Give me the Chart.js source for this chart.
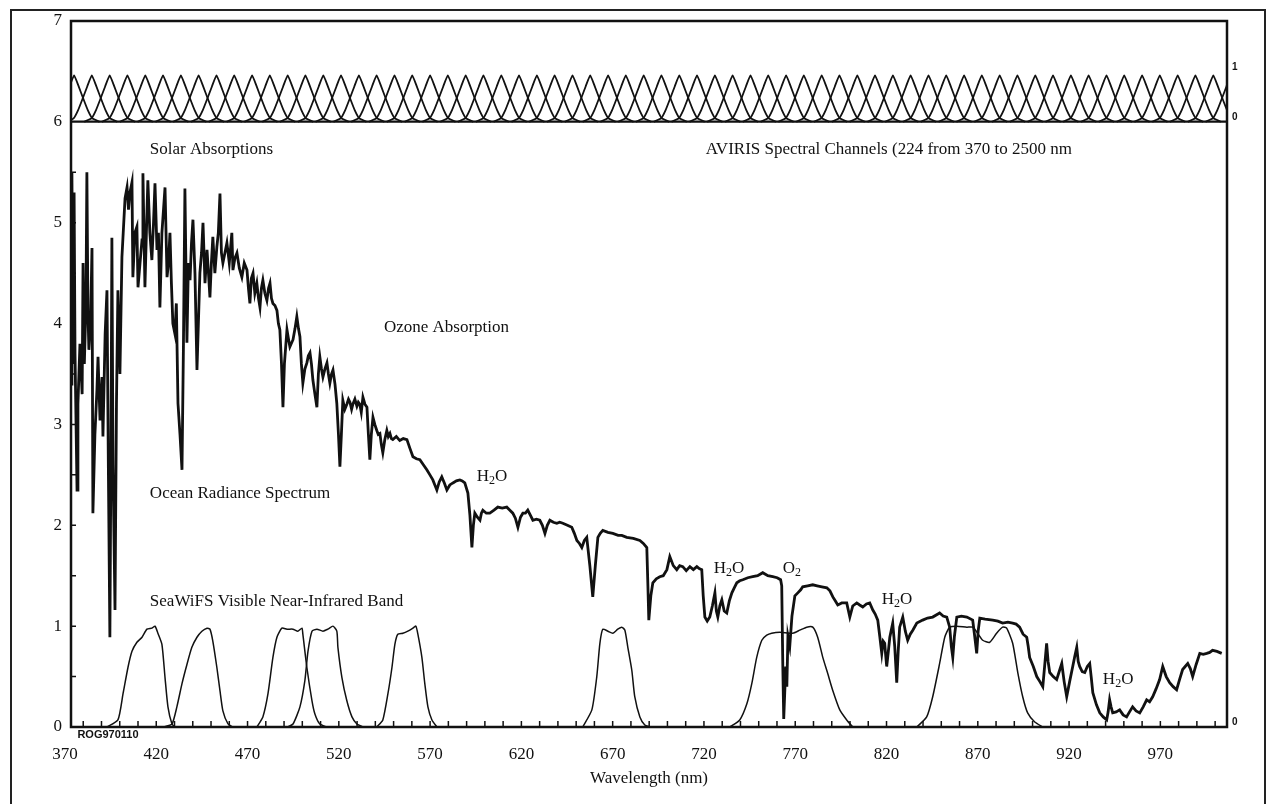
<!DOCTYPE html>
<html>
<head>
<meta charset="utf-8">
<script src="https://cdn.jsdelivr.net/npm/chart.js@4.4.1/dist/chart.umd.min.js"></script>
<style>
  html, body { margin: 0; padding: 0; background: #fff; }
  #wrap { position: relative; width: 1270px; height: 804px; }
  #frame { position: absolute; left: 10px; top: 9px; width: 1256px; height: 800px;
           border: 2px solid #222; box-sizing: border-box; pointer-events: none; }
</style>
</head>
<body>
<div id="wrap">
  <canvas id="chart" width="1270" height="804"></canvas>
  <div id="frame"></div>
</div>
<script>
// Ocean radiance spectrum over the AVIRIS channels and the SeaWiFS bands.
// Values.

const SPECTRUM_NM = [
  373.3, 373.8, 374.4, 375.0, 375.5, 376.6, 377.1, 378.2, 379.4, 379.9, 380.6, 381.5, 382.0, 382.6, 383.1,
  384.0, 384.8, 385.3, 386.4, 387.5, 388.1, 389.2, 390.3, 390.8, 392.0, 393.0, 393.8, 394.6, 395.2, 395.7,
  396.3, 397.4, 398.2, 399.0, 400.1, 401.2, 402.9, 404.0, 404.8, 405.6, 406.7, 407.2, 408.3, 409.4, 410.0,
  411.1, 412.2, 412.7, 413.8, 414.6, 415.4, 416.5, 417.6, 418.5, 419.3, 420.4, 421.2, 422.0, 423.1, 424.8,
  425.9, 426.7, 427.5, 428.3, 429.1, 430.2, 431.0, 431.9, 433.0, 434.1, 434.9, 435.7, 436.8, 437.6, 438.5,
  439.3, 440.1, 441.2, 442.3, 443.9, 444.8, 445.6, 446.7, 447.8, 448.6, 449.4, 450.2, 451.0, 452.1, 453.2,
  454.0, 454.9, 455.7, 456.5, 457.6, 458.7, 460.0, 461.4, 462.0, 463.1, 464.2, 465.5, 466.9, 468.2, 469.7,
  470.5, 471.3, 472.1, 473.0, 474.0, 475.1, 476.0, 476.8, 477.6, 478.4, 479.5, 480.6, 481.5, 482.3, 483.1,
  483.9, 485.0, 486.1, 486.9, 487.7, 488.6, 489.4, 490.2, 491.6, 492.4, 493.2, 494.9, 496.0, 497.0, 497.9,
  498.7, 499.5, 500.3, 501.4, 502.5, 503.3, 504.2, 505.0, 505.8, 506.9, 508.0, 508.8, 509.6, 510.5, 511.3,
  512.4, 513.5, 514.3, 515.1, 516.0, 516.8, 517.9, 518.9, 519.8, 520.6, 521.4, 522.2, 523.3, 524.4, 525.3,
  526.1, 527.0, 527.7, 528.8, 529.9, 530.7, 531.5, 532.3, 533.2, 534.3, 535.4, 536.2, 537.0, 537.8, 538.7,
  539.7, 540.8, 541.6, 542.5, 543.3, 544.1, 545.2, 546.3, 547.1, 548.0, 548.8, 549.6, 551.5, 553.4, 555.3,
  557.3, 559.0, 560.6, 562.5, 564.4, 566.3, 568.2, 569.9, 571.5, 572.6, 573.7, 575.0, 576.4, 577.8, 579.2,
  580.8, 582.5, 584.4, 586.3, 587.6, 589.0, 590.7, 591.8, 592.9, 593.7, 594.5, 595.9, 597.3, 598.1, 598.9,
  600.8, 602.7, 605.0, 607.1, 609.5, 612.0, 613.7, 615.3, 616.7, 618.1, 619.5, 620.8, 622.2, 623.5, 624.9,
  626.3, 628.2, 630.1, 631.5, 632.9, 634.2, 635.6, 637.5, 639.4, 641.0, 642.7, 645.2, 647.6, 649.0, 650.4,
  651.8, 653.1, 654.5, 655.8, 657.5, 659.1, 660.5, 661.9, 663.2, 664.6, 667.4, 670.1, 673.0, 675.0, 677.7,
  681.3, 684.9, 686.8, 688.7, 689.3, 689.8, 690.9, 692.0, 693.9, 695.8, 697.7, 699.7, 701.3, 703.2, 705.1,
  706.7, 708.4, 710.3, 712.3, 714.2, 716.1, 717.4, 718.8, 719.6, 720.5, 721.8, 723.2, 724.6, 726.0, 726.8,
  727.6, 728.7, 729.8, 731.1, 732.5, 733.9, 735.3, 736.6, 738.0, 739.6, 741.3, 744.0, 746.7, 749.4, 752.2,
  755.0, 757.7, 760.1, 762.0, 762.6, 763.2, 763.7, 764.8, 765.4, 766.0, 767.0, 768.2, 769.8, 771.4, 773.0,
  774.1, 776.8, 779.6, 782.0, 784.6, 787.3, 789.0, 790.6, 792.0, 793.3, 795.5, 798.2, 799.9, 801.5, 803.7,
  805.3, 807.0, 809.0, 810.8, 812.5, 813.8, 815.2, 816.3, 817.4, 818.2, 819.0, 819.6, 820.1, 821.0, 821.8,
  823.4, 824.5, 825.6, 826.4, 827.2, 828.9, 830.3, 831.6, 833.0, 834.4, 836.6, 839.8, 842.5, 845.3, 849.1,
  851.0, 853.0, 854.6, 855.5, 856.3, 857.2, 858.5, 861.0, 864.0, 867.2, 868.3, 869.4, 870.2, 871.1, 874.0,
  878.2, 881.0, 883.6, 886.5, 889.1, 891.0, 892.9, 894.8, 896.8, 897.6, 898.4, 900.4, 902.3, 904.0, 905.6,
  906.6, 907.7, 908.5, 909.4, 911.3, 913.2, 914.6, 916.0, 917.3, 918.7, 920.3, 922.0, 923.1, 924.2, 925.0,
  925.8, 927.2, 928.6, 930.0, 931.3, 932.1, 933.0, 935.0, 936.8, 938.7, 940.6, 941.4, 942.2, 943.0, 943.9,
  945.8, 947.7, 949.6, 951.5, 953.1, 954.8, 956.7, 958.7, 960.6, 962.5, 964.1, 965.8, 967.7, 969.6, 971.3,
  973.2, 975.1, 977.0, 978.9, 980.5, 982.2, 983.6, 985.0, 986.4, 987.7, 989.6, 991.6, 993.5, 995.4, 997.0,
  998.6, 1001.0, 1003.6
];

const SPECTRUM_RADIANCE = [
  3.40, 5.50, 3.60, 5.30, 3.70, 2.35, 3.20, 3.80, 3.30, 4.60, 3.60, 4.20, 5.50, 4.10, 3.74,
  4.00, 4.75, 2.12, 2.90, 3.34, 3.67, 3.04, 3.47, 2.88, 3.90, 4.33, 2.50, 0.89, 2.80, 4.85,
  2.60, 1.16, 3.20, 4.33, 3.50, 4.66, 5.24, 5.35, 5.13, 5.30, 5.40, 4.46, 4.90, 4.96, 4.36,
  4.60, 4.83, 5.49, 4.36, 4.90, 5.42, 4.90, 4.63, 5.00, 5.39, 4.73, 4.90, 4.16, 4.90, 5.35,
  4.46, 4.60, 4.90, 4.40, 4.00, 3.90, 4.20, 3.21, 2.90, 2.55, 3.80, 5.34, 3.81, 4.60, 4.43,
  4.80, 5.03, 4.50, 3.54, 4.50, 4.70, 5.00, 4.40, 4.73, 4.50, 4.26, 4.60, 4.86, 4.50, 4.76,
  4.90, 5.29, 4.70, 4.60, 4.70, 4.80, 4.60, 4.90, 4.53, 4.65, 4.70, 4.55, 4.46, 4.60, 4.53,
  4.35, 4.20, 4.45, 4.50, 4.30, 4.40, 4.25, 4.16, 4.35, 4.43, 4.30, 4.23, 4.35, 4.40, 4.25,
  4.20, 4.18, 4.13, 4.00, 3.94, 3.60, 3.17, 3.60, 3.94, 3.85, 3.77, 3.84, 3.95, 4.07, 3.95,
  3.87, 3.60, 3.41, 3.55, 3.61, 3.68, 3.71, 3.60, 3.44, 3.30, 3.17, 3.50, 3.67, 3.55, 3.47,
  3.55, 3.61, 3.50, 3.41, 3.50, 3.54, 3.40, 3.21, 2.90, 2.58, 2.90, 3.24, 3.15, 3.20, 3.25,
  3.22, 3.15, 3.20, 3.25, 3.18, 3.22, 3.20, 3.12, 3.27, 3.20, 3.17, 2.90, 2.65, 2.90, 3.07,
  3.00, 2.94, 2.90, 2.91, 2.80, 2.72, 2.85, 2.94, 2.88, 2.91, 2.86, 2.85, 2.88, 2.84, 2.86,
  2.85, 2.76, 2.68, 2.66, 2.65, 2.60, 2.55, 2.50, 2.45, 2.40, 2.35, 2.43, 2.48, 2.42, 2.35,
  2.40, 2.42, 2.44, 2.45, 2.44, 2.42, 2.32, 2.10, 1.78, 2.00, 2.12, 2.08, 2.05, 2.12, 2.15,
  2.12, 2.12, 2.15, 2.18, 2.17, 2.18, 2.15, 2.12, 2.07, 1.98, 2.08, 2.12, 2.12, 2.15, 2.10,
  2.05, 2.06, 2.05, 2.00, 1.92, 2.00, 2.05, 2.03, 2.02, 2.03, 2.02, 2.00, 1.98, 1.92, 1.85,
  1.82, 1.78, 1.85, 1.88, 1.60, 1.29, 1.60, 1.88, 1.92, 1.95, 1.93, 1.92, 1.90, 1.90, 1.88,
  1.87, 1.85, 1.82, 1.78, 1.40, 1.06, 1.30, 1.43, 1.47, 1.49, 1.50, 1.56, 1.69, 1.60, 1.56,
  1.60, 1.59, 1.55, 1.59, 1.56, 1.59, 1.57, 1.56, 1.30, 1.09, 1.05, 1.09, 1.20, 1.33, 1.15,
  1.09, 1.20, 1.26, 1.15, 1.13, 1.25, 1.33, 1.38, 1.43, 1.45, 1.46, 1.48, 1.49, 1.50, 1.53,
  1.50, 1.49, 1.48, 1.46, 1.40, 0.60, 0.08, 0.60, 0.40, 0.90, 0.80, 1.10, 1.30, 1.33, 1.36,
  1.39, 1.40, 1.41, 1.40, 1.39, 1.38, 1.35, 1.29, 1.25, 1.21, 1.23, 1.23, 1.09, 1.20, 1.23,
  1.21, 1.19, 1.22, 1.23, 1.16, 1.12, 1.06, 0.90, 0.73, 0.85, 0.83, 0.70, 0.60, 0.75, 0.89,
  1.03, 0.80, 0.44, 0.75, 0.99, 1.09, 0.95, 0.86, 0.92, 0.96, 1.03, 1.06, 1.08, 1.09, 1.13,
  1.10, 1.09, 0.99, 0.80, 0.69, 0.90, 1.09, 1.10, 1.09, 1.06, 0.90, 0.73, 0.95, 1.08, 1.07,
  1.06, 1.05, 1.03, 1.04, 1.03, 1.02, 0.99, 0.92, 0.89, 0.80, 0.69, 0.60, 0.50, 0.45, 0.40,
  0.60, 0.83, 0.65, 0.54, 0.50, 0.47, 0.55, 0.63, 0.45, 0.30, 0.45, 0.60, 0.70, 0.79, 0.65,
  0.60, 0.55, 0.54, 0.60, 0.63, 0.50, 0.34, 0.22, 0.14, 0.10, 0.07, 0.15, 0.27, 0.20, 0.14,
  0.15, 0.17, 0.12, 0.10, 0.15, 0.20, 0.16, 0.14, 0.20, 0.27, 0.25, 0.30, 0.38, 0.47, 0.60,
  0.50, 0.44, 0.40, 0.37, 0.47, 0.57, 0.60, 0.63, 0.58, 0.50, 0.62, 0.73, 0.72, 0.73, 0.74,
  0.76, 0.75, 0.73
];

// SeaWiFS relative spectral response, one sub-array per band
const BAND_LABELS = ["412", "443", "490", "510", "555", "670", "765", "865"];
const BAND_NM = [
  [393.0, 399.0, 401.8, 404.5, 406.7, 409.4, 412.2, 414.9, 417.6, 419.3, 420.9, 423.1, 424.8, 426.4, 428.6, 430.2],
  [423.7, 428.6, 431.3, 434.1, 436.8, 439.5, 442.3, 445.0, 447.8, 449.4, 451.0, 453.2, 454.9, 456.5, 459.3, 462.0],
  [475.1, 478.4, 481.2, 483.9, 486.1, 488.8, 491.6, 494.9, 497.6, 499.8, 500.3, 502.5, 505.3, 506.9, 509.6, 513.5],
  [491.6, 494.9, 498.7, 501.4, 503.1, 505.3, 508.0, 511.3, 514.0, 516.8, 518.9, 519.5, 521.7, 524.4, 527.2, 529.9, 533.2],
  [540.8, 544.1, 546.9, 549.1, 550.7, 552.3, 555.1, 557.8, 560.6, 562.2, 563.3, 565.5, 567.1, 568.8, 571.0, 573.7],
  [653.6, 658.6, 661.3, 663.0, 664.6, 667.4, 670.1, 672.8, 675.0, 676.7, 678.3, 680.5, 682.1, 684.9, 687.6, 690.4],
  [734.1, 739.6, 743.5, 746.2, 748.9, 751.7, 754.4, 757.1, 761.5, 768.7, 772.5, 776.3, 779.6, 782.3, 785.1, 787.8, 790.6, 794.4, 798.2, 801.5],
  [836.6, 842.0, 845.3, 849.1, 851.9, 854.6, 858.5, 864.0, 867.2, 869.9, 872.7, 876.5, 880.3, 883.6, 885.8, 889.1, 891.9, 894.6, 897.3, 901.2, 905.6]
];
const BAND_RESPONSE = [
  [0.00, 0.07, 0.33, 0.59, 0.75, 0.84, 0.89, 0.97, 0.98, 1.00, 0.93, 0.82, 0.49, 0.20, 0.03, 0.00],
  [0.00, 0.03, 0.20, 0.43, 0.62, 0.79, 0.89, 0.95, 0.98, 0.97, 0.85, 0.59, 0.36, 0.16, 0.03, 0.00],
  [0.00, 0.10, 0.33, 0.69, 0.89, 0.98, 0.97, 0.97, 0.95, 0.98, 0.92, 0.59, 0.26, 0.13, 0.03, 0.00],
  [0.00, 0.03, 0.20, 0.46, 0.75, 0.95, 0.97, 0.95, 0.97, 1.00, 0.95, 0.79, 0.49, 0.26, 0.10, 0.03, 0.00],
  [0.00, 0.07, 0.33, 0.59, 0.82, 0.92, 0.93, 0.95, 0.98, 1.00, 0.92, 0.69, 0.43, 0.20, 0.07, 0.00],
  [0.00, 0.17, 0.50, 0.83, 0.97, 0.95, 0.93, 0.97, 0.99, 0.96, 0.79, 0.56, 0.30, 0.10, 0.02, 0.00],
  [0.00, 0.07, 0.23, 0.43, 0.69, 0.86, 0.91, 0.93, 0.94, 0.93, 0.96, 0.99, 0.99, 0.89, 0.69, 0.53, 0.36, 0.17, 0.07, 0.00],
  [0.00, 0.10, 0.30, 0.63, 0.89, 0.99, 1.00, 0.99, 0.99, 0.93, 0.86, 0.84, 0.93, 0.99, 0.98, 0.83, 0.54, 0.30, 0.14, 0.05, 0.00]
];

// AVIRIS channel centres (nm) and the shape of one channel's response
const CHANNEL_CENTERS = [
  375.0, 384.7, 394.5, 404.2, 414.0, 423.7, 433.5, 443.2, 453.0, 462.7, 472.5, 482.2, 492.0, 501.7, 511.5,
  521.2, 531.0, 540.7, 550.5, 560.2, 570.0, 579.7, 589.5, 599.2, 609.0, 618.7, 628.5, 638.2, 648.0, 657.7,
  667.5, 677.2, 687.0, 696.7, 706.5, 716.2, 726.0, 735.7, 745.5, 755.2, 765.0, 774.7, 784.5, 794.2, 804.0,
  813.7, 823.5, 833.2, 843.0, 852.7, 862.5, 872.2, 882.0, 891.7, 901.5, 911.2, 921.0, 930.7, 940.5, 950.2,
  960.0, 969.7, 979.5, 989.2, 999.0, 1008.7
];
const CHANNEL_OFFSETS = [-14, -10, -7.5, -5, -2.5, 0, 2.5, 5, 7.5, 10, 14];
const CHANNEL_SHAPE = [0.0, 0.07, 0.25, 0.5, 0.76, 1.0, 0.76, 0.5, 0.25, 0.07, 0.0];

const X_TICKS = [370, 420, 470, 520, 570, 620, 670, 720, 770, 820, 870, 920, 970];
const RIGHT_TICK_VALUES = [0.05, 6.05, 6.54];
const RIGHT_TICK_LABELS = ["0", "0", "1"];

const ANNOTATIONS = [
  { parts: [["Solar Absorptions", 0]], x: 416.5, y: 5.73 },
  { parts: [["AVIRIS Spectral Channels (224 from 370 to 2500 nm", 0]], x: 721, y: 5.73 },
  { parts: [["Ozone Absorption", 0]], x: 544.7, y: 3.96 },
  { parts: [["Ocean Radiance Spectrum", 0]], x: 416.5, y: 2.31 },
  { parts: [["SeaWiFS Visible Near-Infrared Band", 0]], x: 416.5, y: 1.24 },
  { parts: [["H", 0], ["2", 1], ["O", 0]], x: 595.5, y: 2.48 },
  { parts: [["H", 0], ["2", 1], ["O", 0]], x: 725.4, y: 1.57 },
  { parts: [["O", 0], ["2", 1]], x: 763.2, y: 1.57 },
  { parts: [["H", 0], ["2", 1], ["O", 0]], x: 817.4, y: 1.26 },
  { parts: [["H", 0], ["2", 1], ["O", 0]], x: 938.5, y: 0.47 }
];
const CODE_LABEL = { text: "ROG970110", x: 376.8, y: -0.08 };

const SERIF = "'Liberation Serif', 'Times New Roman', serif";
const SANS = "'Liberation Sans', Arial, sans-serif";
const INK = "#111";

function pairs(xs, ys) {
  return xs.map((x, i) => ({ x: x, y: ys[i] }));
}

const datasets = [];

datasets.push({
  label: "Ocean Radiance Spectrum",
  data: pairs(SPECTRUM_NM, SPECTRUM_RADIANCE),
  borderColor: INK,
  borderWidth: 2.8,
  pointRadius: 0,
  tension: 0,
});

BAND_NM.forEach((nm, i) => {
  datasets.push({
    label: "SeaWiFS " + BAND_LABELS[i],
    data: pairs(nm, BAND_RESPONSE[i]),
    borderColor: INK,
    borderWidth: 1.5,
    pointRadius: 0,
    tension: 0.2,
  });
});

CHANNEL_CENTERS.forEach((c) => {
  datasets.push({
    label: "AVIRIS " + c,
    data: CHANNEL_OFFSETS.map((o, j) => ({ x: c + o, y: CHANNEL_SHAPE[j] })),
    yAxisID: "yc",
    borderColor: INK,
    borderWidth: 1.8,
    pointRadius: 0,
    tension: 0.15,
  });
});

// baseline of the channel strip
datasets.push({
  label: "AVIRIS baseline",
  data: [{ x: 360, y: 0 }, { x: 1020, y: 0 }],
  yAxisID: "yc",
  borderColor: INK,
  borderWidth: 2.2,
  pointRadius: 0,
});

// plot frame and the inward tick marks
const frameTicks = {
  id: "frameTicks",
  afterDatasetsDraw(chart) {
    const { ctx, chartArea: a, scales } = chart;
    const x = scales.x, y = scales.y;
    ctx.save();
    ctx.strokeStyle = INK;
    ctx.lineWidth = 1.5;
    ctx.beginPath();
    for (let v = 380; v <= 1000; v += 10) {
      const px = x.getPixelForValue(v);
      ctx.moveTo(px, a.bottom);
      ctx.lineTo(px, a.bottom - 6);
    }
    for (let v = 0.5; v <= 5.5; v += 0.5) {
      const py = y.getPixelForValue(v);
      ctx.moveTo(a.left, py);
      ctx.lineTo(a.left + 5, py);
    }
    ctx.stroke();
    ctx.lineWidth = 2.5;
    ctx.strokeRect(a.left, a.top, a.right - a.left, a.bottom - a.top);
    ctx.restore();
  },
};

// text labels placed in data coordinates
const notes = {
  id: "notes",
  afterDraw(chart) {
    const { ctx, scales } = chart;
    const x = scales.x, y = scales.y;
    ctx.save();
    ctx.fillStyle = INK;
    ctx.textBaseline = "middle";
    ctx.textAlign = "left";
    ANNOTATIONS.forEach((n) => {
      let px = x.getPixelForValue(n.x);
      const py = y.getPixelForValue(n.y);
      n.parts.forEach(([t, sub]) => {
        ctx.font = (sub ? "12px " : "17px ") + SERIF;
        ctx.fillText(t, px, sub ? py + 4 : py);
        px += ctx.measureText(t).width;
      });
    });
    ctx.font = "bold 11px " + SANS;
    ctx.fillText(CODE_LABEL.text, x.getPixelForValue(CODE_LABEL.x), y.getPixelForValue(CODE_LABEL.y));
    ctx.restore();
  },
};

new Chart(document.getElementById("chart"), {
  type: "line",
  data: { datasets: datasets },
  options: {
    responsive: false,
    animation: false,
    devicePixelRatio: 1,
    layout: { padding: { top: 21, left: 0, right: 0, bottom: 0 } },
    plugins: { legend: { display: false }, tooltip: { enabled: false } },
    scales: {
      x: {
        type: "linear",
        min: 373.3,
        max: 1006.5,
        afterBuildTicks: (s) => { s.ticks = X_TICKS.map((v) => ({ value: v })); },
        afterFit: (s) => { s.height = 77; },
        grid: { display: false, drawTicks: false },
        border: { display: false },
        ticks: {
          autoSkip: false,
          maxRotation: 0,
          padding: 17,
          color: INK,
          font: { family: SERIF, size: 17 },
          callback: (v) => String(v),
        },
        title: {
          display: true,
          text: "Wavelength (nm)",
          color: INK,
          font: { family: SERIF, size: 17 },
          padding: { top: 0, bottom: 15 },
        },
      },
      y: {
        min: 0,
        max: 7,
        afterFit: (s) => { s.width = 71; },
        grid: { display: false, drawTicks: false },
        border: { display: false },
        ticks: { stepSize: 1, padding: 9, color: INK, font: { family: SERIF, size: 17 } },
      },
      y2: {
        position: "right",
        min: 0,
        max: 7,
        afterBuildTicks: (s) => { s.ticks = RIGHT_TICK_VALUES.map((v) => ({ value: v })); },
        afterFit: (s) => { s.width = 43; },
        grid: { display: false, drawTicks: false },
        border: { display: false },
        ticks: {
          padding: 5,
          color: INK,
          font: { family: SANS, size: 10, weight: "bold" },
          callback: (v, i) => RIGHT_TICK_LABELS[i],
        },
      },
      yc: {
        display: false,
        min: -13.04,
        max: 2.17,
      },
    },
  },
  plugins: [frameTicks, notes],
});
</script>
</body>
</html>
